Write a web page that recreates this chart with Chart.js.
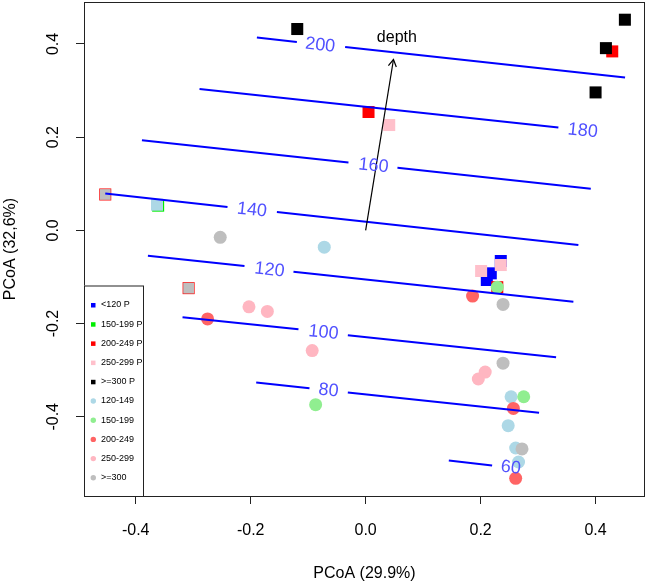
<!DOCTYPE html>
<html>
<head>
<meta charset="utf-8">
<script src="https://cdn.jsdelivr.net/npm/chart.js@4.4.0/dist/chart.umd.min.js"></script>
<style>
  body { margin: 0; background: #fff; }
</style>
</head>
<body>
<canvas id="myChart" width="646" height="585"></canvas>
<script>
// PCoA scores, squares = permanent plots (P), circles = the rest
var lt120P = [[0.2351, -0.0658], [0.2177, -0.0922], [0.2108, -0.1065]];
var p150P = [[-0.361, 0.053]];
var p200P = [[0.429, 0.384], [0.005, 0.254], [-0.453, 0.077], [-0.308, -0.124], [0.229, -0.122]];
var p250P = [[0.041, 0.226], [0.2009, -0.0872], [0.2351, -0.0744]];
var ge300P = [[-0.119, 0.432], [0.451, 0.452], [0.418, 0.391], [0.400, 0.296]];

var c120 = [[-0.072, -0.036], [0.253, -0.357], [0.248, -0.419], [0.261, -0.467], [0.266, -0.497]];
var c150 = [[-0.087, -0.374], [0.275, -0.357], [0.229, -0.122]];
var c200 = [[-0.275, -0.190], [0.186, -0.141], [0.257, -0.382], [0.261, -0.532]];
var c250 = [[-0.203, -0.164], [-0.171, -0.174], [-0.093, -0.258], [0.208, -0.304], [0.196, -0.319]];
var c300 = [[-0.253, -0.015], [0.239, -0.159], [0.239, -0.285], [0.272, -0.469]];
// these two groups come out as boxes in the original
var c120Box = [[-0.363, 0.055]];
var c300Box = [[-0.453, 0.077], [-0.308, -0.124]];

// depth surface (ordisurf style contours), each segment x1,y1,x2,y2
var levels = [200, 180, 160, 140, 120, 100, 80, 60];
var contourSegs = [
  [[-0.1892, 0.4137, -0.1197, 0.4043], [-0.0357, 0.3936, 0.4513, 0.3280]],
  [[-0.2890, 0.3035, 0.3353, 0.2208]],
  [[-0.3892, 0.1936, -0.0299, 0.1458], [0.0553, 0.1342, 0.3917, 0.0892]],
  [[-0.4530, 0.0793, -0.2403, 0.0499], [-0.1544, 0.0392, 0.3701, -0.0315]],
  [[-0.3788, -0.0544, -0.2108, -0.0765], [-0.1256, -0.0887, 0.3614, -0.1531]],
  [[-0.3186, -0.1865, -0.1169, -0.2122], [-0.0310, -0.2251, 0.3313, -0.2722]],
  [[-0.1904, -0.3267, -0.0977, -0.3387], [-0.0310, -0.3481, 0.3017, -0.3916]],
  [[0.1447, -0.4939, 0.2200, -0.5046]]
];
var labelX = [-0.0791, 0.3777, 0.0136, -0.1979, -0.1673, -0.0734, -0.0647, 0.2525];
var labelY = [0.3972, 0.2135, 0.1385, 0.0435, -0.0851, -0.2195, -0.3438, -0.5095];

var depthArrow = [[0, 0], [0.0484, 0.3666]];
var depthLabel = [0.0543, 0.413];

var xTicks = [-0.4, -0.2, 0.0, 0.2, 0.4];
var yTicks = [-0.4, -0.2, 0.0, 0.2, 0.4];

var legendNames = ['<120 P', '150-199 P', '200-249 P', '250-299 P', '>=300 P',
  '120-149', '150-199', '200-249', '250-299', '>=300'];

function pts(arr) {
  return arr.map(function (p) { return {x: p[0], y: p[1]} });
}

function squares(arr, color, r) {
  return {data: pts(arr), pointStyle: 'rect', pointRadius: r || 8.5, backgroundColor: color,
    pointBorderWidth: 0, borderWidth: 0, showLine: false};
}
function circles(arr, color) {
  return {data: pts(arr), pointStyle: 'circle', pointRadius: 6.5, backgroundColor: color,
    pointBorderWidth: 0, borderWidth: 0, showLine: false};
}

var legendColors = ['#0000ff', '#00ee00', '#ff0000', '#ffc0cb', '#000000',
  '#add8e6', '#90ee90', '#ff6464', '#ffb6c1', '#bebebe'];

// paint order: first entry at the bottom
var layers = [
  squares(lt120P, '#0000ff'),
  squares(p150P, '#00ee00'),
  squares(p200P, '#ff0000'),
  squares(p250P, '#ffc0cb'),
  squares(ge300P, '#000000'),
  squares(c120Box, '#add8e6'),
  squares(c300Box, '#bebebe', 7.6),
  circles(c120, '#add8e6'),
  circles(c150, '#90ee90'),
  circles(c200, '#ff6464'),
  circles(c250, '#ffb6c1'),
  circles(c300, '#bebebe')
];
contourSegs.forEach(function (segs) {
  segs.forEach(function (s) {
    layers.push({data: [{x: s[0], y: s[1]}, {x: s[2], y: s[3]}], showLine: true,
      borderColor: '#0000ff', borderWidth: 2, pointRadius: 0, fill: false});
  });
});
layers.push({data: pts(depthArrow), showLine: true, borderColor: '#000', borderWidth: 1.2,
  pointRadius: 0, fill: false});

layers.forEach(function (ds, i) { ds.order = layers.length - i; });

var extras = {
  id: 'extras',
  afterDatasetsDraw: function (chart) {
    var ctx = chart.ctx, xs = chart.scales.x, ys = chart.scales.y, a = chart.chartArea;
    ctx.save();
    // contour labels
    ctx.fillStyle = '#5050ff';
    ctx.font = '18px "Liberation Sans", Arial, sans-serif';
    ctx.textAlign = 'center';
    ctx.textBaseline = 'middle';
    levels.forEach(function (lv, i) {
      var s = contourSegs[i][contourSegs[i].length - 1];
      var ang = Math.atan2(ys.getPixelForValue(s[3]) - ys.getPixelForValue(s[1]),
        xs.getPixelForValue(s[2]) - xs.getPixelForValue(s[0]));
      ctx.save();
      ctx.translate(xs.getPixelForValue(labelX[i]), ys.getPixelForValue(labelY[i]));
      ctx.rotate(ang);
      ctx.fillText(String(lv), 0, 0);
      ctx.restore();
    });
    // arrow head
    var x0 = xs.getPixelForValue(depthArrow[0][0]), y0 = ys.getPixelForValue(depthArrow[0][1]);
    var x1 = xs.getPixelForValue(depthArrow[1][0]), y1 = ys.getPixelForValue(depthArrow[1][1]);
    var t = Math.atan2(y1 - y0, x1 - x0), L = 8;
    ctx.strokeStyle = '#000';
    ctx.lineWidth = 1.2;
    ctx.beginPath();
    ctx.moveTo(x1 - L * Math.cos(t - Math.PI / 6), y1 - L * Math.sin(t - Math.PI / 6));
    ctx.lineTo(x1, y1);
    ctx.lineTo(x1 - L * Math.cos(t + Math.PI / 6), y1 - L * Math.sin(t + Math.PI / 6));
    ctx.stroke();
    ctx.fillStyle = '#000';
    ctx.font = '16px "Liberation Sans", Arial, sans-serif';
    ctx.fillText('depth', xs.getPixelForValue(depthLabel[0]), ys.getPixelForValue(depthLabel[1]));

    // plot box
    ctx.lineWidth = 1;
    ctx.strokeStyle = '#222';
    ctx.strokeRect(a.left + 0.5, a.top + 0.5, a.right - a.left - 1, a.bottom - a.top);

    // legend
    var lx = a.left, ly = 285.5, lw = 59, lh = a.bottom - ly;
    ctx.fillStyle = '#fff';
    ctx.fillRect(lx, ly, lw, lh);
    ctx.save();
    ctx.beginPath();
    ctx.rect(lx, ly, lw, lh);
    ctx.clip();
    ctx.font = '9px "Liberation Sans", Arial, sans-serif';
    ctx.textAlign = 'left';
    ctx.textBaseline = 'middle';
    legendNames.forEach(function (name, i) {
      var yy = ly + 19.5 + i * 19.2;
      ctx.fillStyle = legendColors[i];
      if (i < 5) {
        ctx.fillRect(lx + 7, yy - 2, 4.5, 4.5);
      } else {
        ctx.beginPath();
        ctx.arc(lx + 9.3, yy, 2.7, 0, Math.PI * 2);
        ctx.fill();
      }
      ctx.fillStyle = '#000';
      ctx.fillText(name, lx + 17, yy);
    });
    ctx.restore();
    ctx.strokeRect(lx + 0.5, ly + 0.5, lw, lh);
    ctx.restore();
  }
};

const ctx = document.getElementById('myChart');
new Chart(ctx, {
  type: 'scatter',
  data: {datasets: layers},
  options: {
    responsive: false,
    animation: false,
    events: [],
    layout: {autoPadding: false, padding: {top: 2, right: 1, left: 0, bottom: 0}},
    plugins: {legend: {display: false}, tooltip: {enabled: false}},
    scales: {
      x: {
        type: 'linear', min: -0.49, max: 0.486,
        afterBuildTicks: function (s) { s.ticks = xTicks.map(function (v) { return {value: v} }); },
        afterFit: function (s) { s.height = 89; s.paddingLeft = 0; s.paddingRight = 0; },
        grid: {drawOnChartArea: false, tickLength: 8, color: '#222'},
        border: {display: false},
        ticks: {color: '#000', padding: 17, maxRotation: 0,
          font: {size: 16, family: '"Liberation Sans", Arial, sans-serif'},
          callback: function (v) { return v.toFixed(1); }},
        title: {display: true, text: 'PCoA (29.9%)', color: '#000', padding: {top: 0, bottom: 1.5},
          font: {size: 16, family: '"Liberation Sans", Arial, sans-serif'}}
      },
      y: {
        type: 'linear', min: -0.57, max: 0.49,
        afterBuildTicks: function (s) { s.ticks = yTicks.map(function (v) { return {value: v} }); },
        afterFit: function (s) { s.width = 84; s.paddingTop = 0; s.paddingBottom = 0; },
        grid: {drawOnChartArea: false, tickLength: 8, color: '#222'},
        border: {display: false},
        ticks: {color: '#000', padding: 9, minRotation: 90, maxRotation: 90, crossAlign: 'center',
          font: {size: 16, family: '"Liberation Sans", Arial, sans-serif'},
          callback: function (v) { return v.toFixed(1); }},
        title: {display: true, text: 'PCoA (32,6%)', color: '#000', padding: {top: 1, bottom: 0},
          font: {size: 16, family: '"Liberation Sans", Arial, sans-serif'}}
      }
    }
  },
  plugins: [extras]
});
</script>
</body>
</html>
